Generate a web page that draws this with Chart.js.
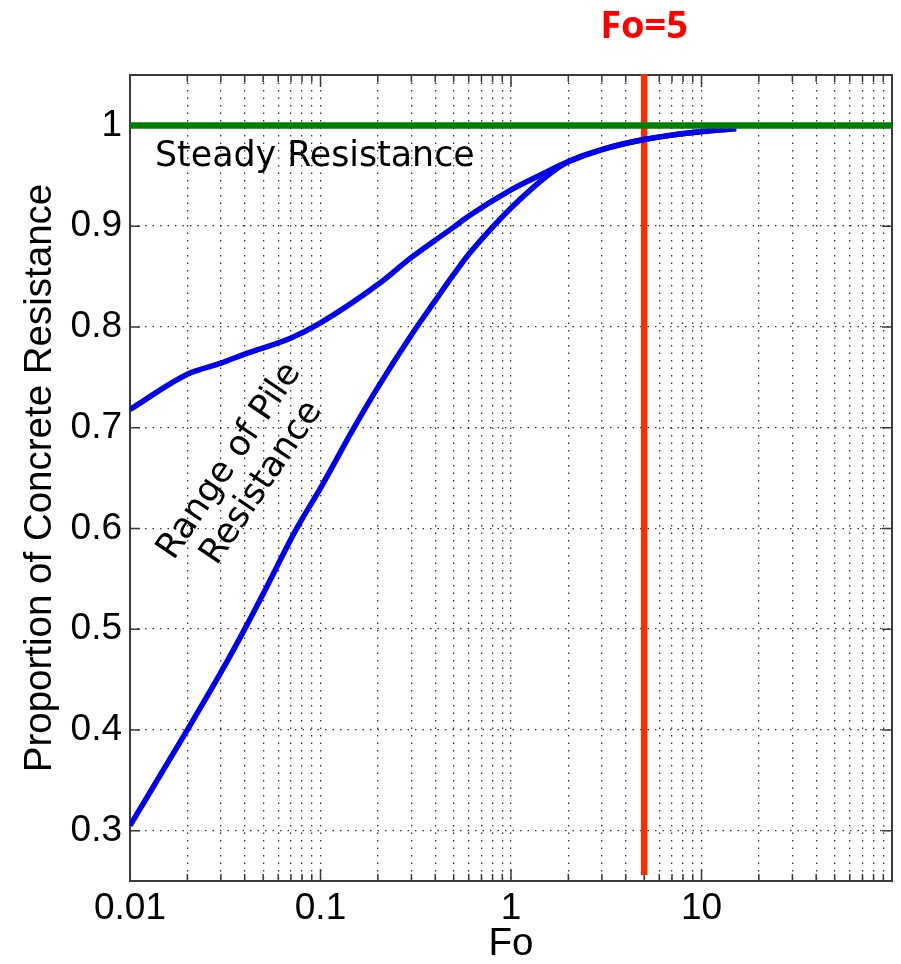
<!DOCTYPE html>
<html>
<head>
<meta charset="utf-8">
<script src="https://cdn.jsdelivr.net/npm/chart.js@4/dist/chart.umd.min.js"></script>
<style>
  body { margin: 0; background: #fff; }
  #wrap { width: 901px; height: 964px; }
</style>
</head>
<body>
<div id="wrap"><canvas id="chartFo"></canvas></div>
<script>
// Fourier number vs proportion of concrete resistance
const foLower = [0.01, 0.02, 0.03, 0.04, 0.05, 0.075, 0.1, 0.15, 0.2, 0.3, 0.4, 0.5, 0.6, 0.8, 1, 1.3, 1.6, 2, 3, 5, 9, 15.2]
const resLower = [0.305, 0.40, 0.457, 0.50, 0.535, 0.60, 0.64, 0.70, 0.74, 0.792, 0.826, 0.852, 0.872, 0.899, 0.918, 0.938, 0.952, 0.964, 0.976, 0.986, 0.993, 0.997]

const foUpper = [0.01, 0.02, 0.03, 0.04, 0.07, 0.1, 0.2, 0.3, 0.4, 0.5, 0.6, 1, 1.4, 2, 3, 5, 9, 15.2]
const resUpper = [0.718, 0.753, 0.764, 0.773, 0.789, 0.804, 0.842, 0.869, 0.886, 0.899, 0.910, 0.936, 0.950, 0.964, 0.976, 0.986, 0.993, 0.997]

const steadyValue = 1
const foMarker = 5
const markerSpan = [0.256, 1.051]

const xRange = [0.01, 100]
const yRange = [0.25, 1.05]
const yTicks = [0.3, 0.4, 0.5, 0.6, 0.7, 0.8, 0.9, 1]
const xLabels = [0.01, 0.1, 1, 10]

// 1..9 per decade for the log grid
const xTicks = []
for (let d = -2; d <= 1; d++) {
    for (let m = 1; m <= 9; m++) {
        xTicks.push(+(m * Math.pow(10, d)).toPrecision(3))
    }
}
xTicks.push(100)

const toPoints = (xs, ys) => xs.map((x, i) => ({ x : x, y : ys[i] }))

const tickFont = { family : 'Liberation Sans, Arial, sans-serif', size : 37, lineHeight : 1 }
const titleFont = { family : 'Liberation Sans, Arial, sans-serif', size : 38.5, lineHeight : 1 }

// axes box with inward ticks, like a matlab plot
const boxPlugin = {
    id : 'axesBox',
    beforeDatasetsDraw(chart) {
        const { ctx, chartArea : a, scales } = chart
        ctx.save()
        ctx.strokeStyle = '#3a3a3a'
        ctx.lineWidth = 2
        ctx.strokeRect(a.left, a.top, a.right - a.left, a.bottom - a.top)
        ctx.lineWidth = 1.5
        ctx.beginPath()
        xTicks.forEach(v => {
            const px = scales.x.getPixelForValue(v)
            const len = xLabels.includes(v) || v === 100 ? 12 : 7
            ctx.moveTo(px, a.bottom); ctx.lineTo(px, a.bottom - len)
            ctx.moveTo(px, a.top); ctx.lineTo(px, a.top + len)
        })
        yTicks.forEach(v => {
            const py = scales.y.getPixelForValue(v)
            ctx.moveTo(a.left, py); ctx.lineTo(a.left + 10, py)
            ctx.moveTo(a.right, py); ctx.lineTo(a.right - 10, py)
        })
        ctx.stroke()
        ctx.restore()
    },
    afterDraw(chart) {
        const { ctx, chartArea : a, scales } = chart
        ctx.save()

        // steady resistance label under the green line
        ctx.fillStyle = '#000'
        ctx.font = '34.8px "DejaVu Sans"'
        ctx.textAlign = 'left'
        ctx.textBaseline = 'alphabetic'
        ctx.fillText('Steady Resistance', a.left + 25, scales.y.getPixelForValue(steadyValue) + 41)

        // rotated label between the two curves
        ctx.save()
        ctx.translate(a.left + 123, a.top + 402)
        ctx.rotate(-56 * Math.PI / 180)
        ctx.font = '35px "DejaVu Sans"'
        ctx.textAlign = 'center'
        ctx.fillText('Range of Pile', 0, -19)
        ctx.fillText('Resistance', 0, 20)
        ctx.restore()

        // marker label above the plot
        ctx.fillStyle = '#ff0000'
        ctx.font = 'bold 38px "Open Sans"'
        ctx.textAlign = 'center'
        ctx.textBaseline = 'middle'
        ctx.fillText('Fo=' + foMarker, scales.x.getPixelForValue(foMarker), 27)
        ctx.restore()
    }
}

const chartFo = new Chart(document.getElementById('chartFo'), {
    type : 'line',
    data : {
        datasets : [
            {
                label : 'Steady',
                data : toPoints(xRange, [steadyValue, steadyValue]),
                borderColor : '#007f00',
                borderWidth : 6.5
            },
            {
                label : 'Upper',
                data : toPoints(foUpper, resUpper),
                borderColor : '#0000f0',
                borderWidth : 5.5,
                cubicInterpolationMode : 'monotone'
            },
            {
                label : 'Lower',
                data : toPoints(foLower, resLower),
                borderColor : '#0000f0',
                borderWidth : 5.5,
                cubicInterpolationMode : 'monotone'
            },
            {
                label : 'Fo=5',
                data : toPoints([foMarker, foMarker], markerSpan),
                borderColor : '#ff2a00',
                borderWidth : 6.5,
                clip : false
            }
        ]
    },
    options : {
        responsive : true,
        maintainAspectRatio : false,
        animation : false,
        elements : { point : { radius : 0 } },
        layout : { padding : { top : 75, right : 6, left : 0, bottom : 0 } },
        plugins : {
            legend : { display : false },
            tooltip : { enabled : false }
        },
        scales : {
            x : {
                type : 'logarithmic',
                min : xRange[0],
                max : xRange[1],
                afterBuildTicks : s => { s.ticks = xTicks.map(v => ({ value : v })) },
                afterFit : s => { s.height = 83 },
                grid : { color : 'rgba(0,0,0,0.8)', lineWidth : 1.3, drawTicks : false },
                border : { display : false, dash : [1.5, 6] },
                ticks : {
                    autoSkip : false,
                    maxRotation : 0,
                    padding : 9,
                    color : '#000',
                    font : tickFont,
                    callback : v => xLabels.includes(v) ? String(v) : ''
                },
                title : {
                    display : true,
                    text : 'Fo',
                    color : '#000',
                    font : titleFont,
                    padding : { top : 0, bottom : 0 }
                }
            },
            y : {
                min : yRange[0],
                max : yRange[1],
                afterBuildTicks : s => { s.ticks = yTicks.map(v => ({ value : v })) },
                afterFit : s => { s.width = 130 },
                grid : { color : 'rgba(0,0,0,0.8)', lineWidth : 1.3, drawTicks : false },
                border : { display : false, dash : [1.5, 6] },
                ticks : {
                    padding : 8,
                    color : '#000',
                    font : tickFont,
                    callback : v => String(+v.toFixed(1))
                },
                title : {
                    display : true,
                    text : 'Proportion of Concrete Resistance',
                    color : '#000',
                    font : titleFont,
                    padding : { top : 21, bottom : 0 }
                }
            }
        }
    },
    plugins : [boxPlugin]
})
</script>
</body>
</html>
